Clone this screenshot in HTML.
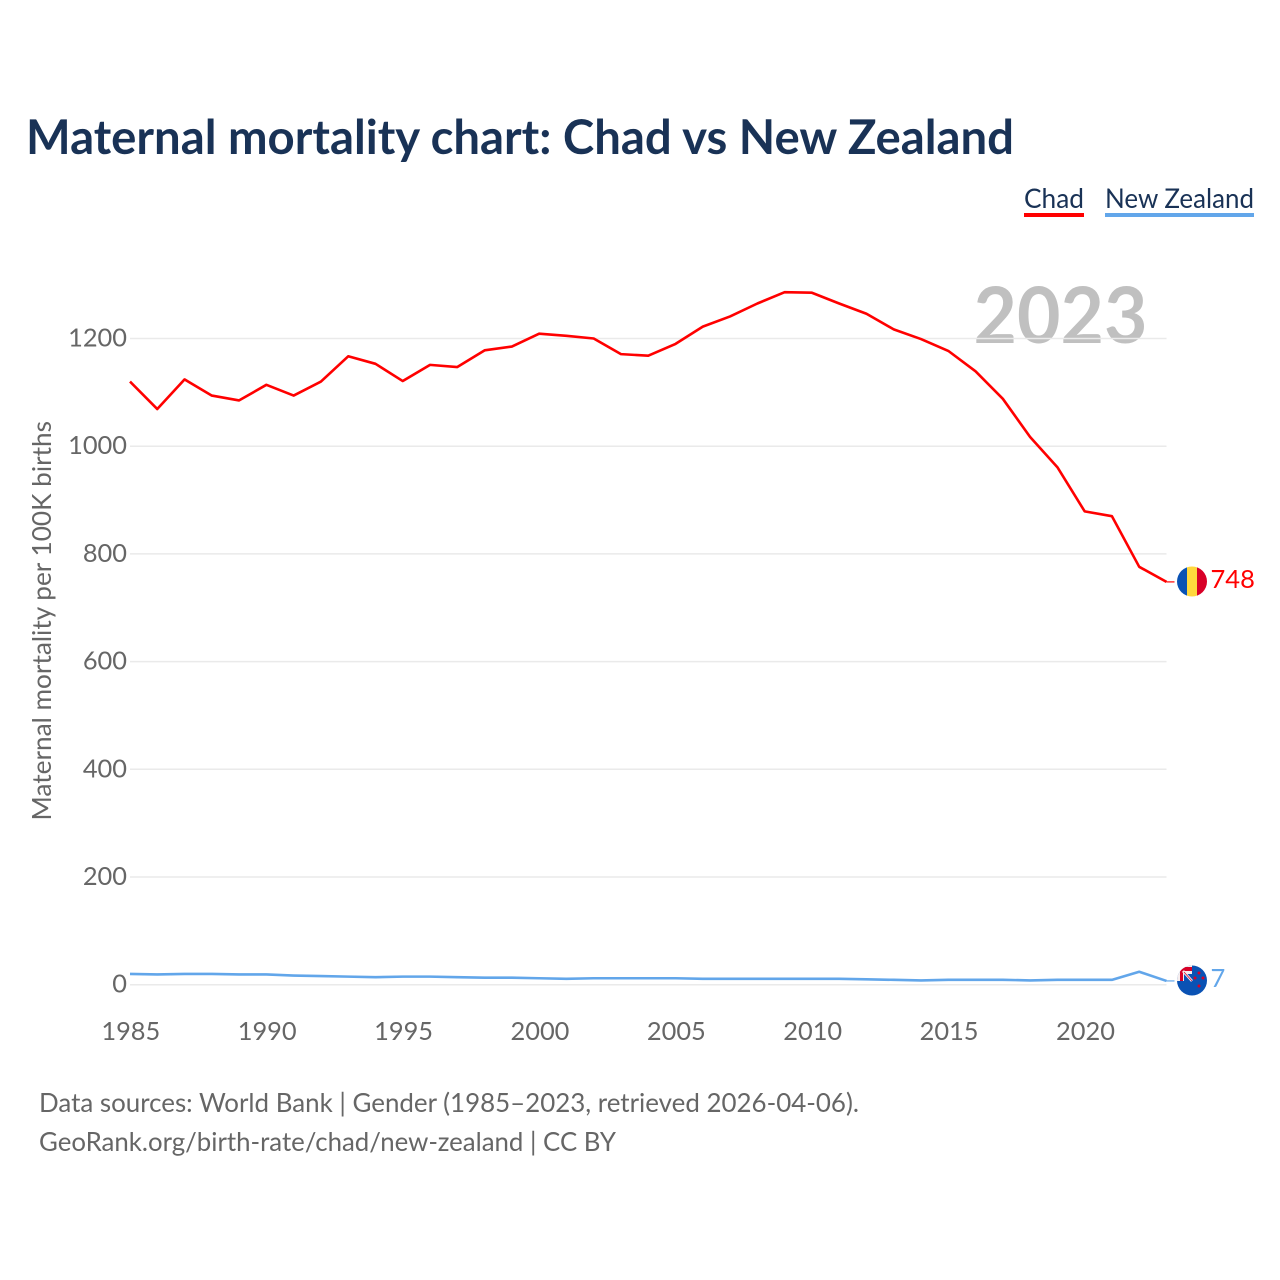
<!DOCTYPE html>
<html lang="en">
<head>
<meta charset="utf-8">
<title>Maternal mortality chart: Chad vs New Zealand</title>
<style>
html,body{margin:0;padding:0;background:#fff;width:1280px;height:1280px;overflow:hidden}
svg{display:block}
text{font-family:"Lato","Carlito","Liberation Sans",sans-serif}
</style>
</head>
<body>
<svg id="chart" xmlns="http://www.w3.org/2000/svg" width="1280" height="1280" viewBox="0 0 1280 1280">
  <defs>
    <clipPath id="clip-chad"><circle cx="1192" cy="581.5" r="15"/></clipPath>
    <clipPath id="clip-nz"><circle cx="1192" cy="980.5" r="15"/></clipPath>
  </defs>
  <text x="26" y="154" font-size="48" font-weight="700" fill="#193256" textLength="988" lengthAdjust="spacingAndGlyphs">Maternal mortality chart: Chad vs New Zealand</text>

  <g>
    <text x="1024" y="208" font-size="27.5" fill="#193256" textLength="60" lengthAdjust="spacingAndGlyphs">Chad</text>
    <rect x="1024" y="213" width="60" height="4" fill="#ff0000"/>
  </g>
  <g>
    <text x="1105" y="208" font-size="27.5" fill="#193256" textLength="149" lengthAdjust="spacingAndGlyphs">New Zealand</text>
    <rect x="1105" y="213" width="149" height="4" fill="#62a6ea"/>
  </g>

  <text x="973.5" y="343" font-size="78" font-weight="700" fill="#c0c0c0" textLength="174" lengthAdjust="spacingAndGlyphs">2023</text>

  <g id="grid"></g>
  <g id="y-ticks"></g>
  <g id="x-ticks"></g>

  <text transform="translate(51,820.5) rotate(-90)" x="0" y="0" font-size="26" fill="#666666" textLength="399.5" lengthAdjust="spacingAndGlyphs">Maternal mortality per 100K births</text>

  <g id="series"></g>

  <g clip-path="url(#clip-chad)">
    <rect x="1177" y="566" width="10" height="31" fill="#0a52b4"/>
    <rect x="1187" y="566" width="10" height="31" fill="#ffd83d"/>
    <rect x="1197" y="566" width="10" height="31" fill="#d80027"/>
  </g>
  <g clip-path="url(#clip-nz)">
    <rect x="1177" y="965" width="30" height="31" fill="#0a52b4"/>
    <rect x="1177" y="965" width="15" height="16" fill="#f6eeee"/>
    <rect x="1180" y="967" width="12" height="4" fill="#d80027"/>
    <rect x="1180" y="967" width="3" height="14" fill="#d80027"/>
    <rect x="1184" y="974" width="8" height="7" fill="#0a52b4"/>
    <path d="M1183 971 L1192 981" stroke="#f6eeee" stroke-width="2.6" fill="none"/>
    <path d="M1184 972 L1192 981" stroke="#d80027" stroke-width="0.7" fill="none"/>
    <circle cx="1199" cy="973" r="1.5" fill="#d80027"/>
    <circle cx="1195" cy="978" r="1.5" fill="#d80027"/>
    <circle cx="1203" cy="978" r="1.5" fill="#d80027"/>
    <circle cx="1199" cy="986" r="1.5" fill="#d80027"/>
  </g>

  <text id="label-chad" x="1210.5" y="588" font-size="25.5" fill="#ff0000"></text>
  <text id="label-nz" x="1210.5" y="987" font-size="25.5" fill="#62a6ea"></text>

  <text x="39" y="1112" font-size="26" fill="#666666" textLength="820" lengthAdjust="spacingAndGlyphs">Data sources: World Bank | Gender (1985–2023, retrieved 2026-04-06).</text>
  <text x="39" y="1151" font-size="26" fill="#666666" textLength="577" lengthAdjust="spacingAndGlyphs">GeoRank.org/birth-rate/chad/new-zealand | CC BY</text>
</svg>
<script>
const years = [1985,1986,1987,1988,1989,1990,1991,1992,1993,1994,1995,1996,1997,1998,1999,2000,2001,2002,2003,2004,2005,2006,2007,2008,2009,2010,2011,2012,2013,2014,2015,2016,2017,2018,2019,2020,2021,2022,2023];
const chadValues = [1120,1069,1124,1094,1085,1114,1094,1120,1167,1153,1121,1151,1147,1178,1185,1209,1205,1200,1171,1168,1190,1222,1241,1265,1286,1285,1265,1246,1217,1199,1177,1139,1088,1017,961,879,870,776,748];
const nzValues = [20,19,20,20,19,19,17,16,15,14,15,15,14,13,13,12,11,12,12,12,12,11,11,11,11,11,11,10,9,8,9,9,9,8,9,9,9,24,7];
const yTicks = [0,200,400,600,800,1000,1200];
const xTicks = [1985,1990,1995,2000,2005,2010,2015,2020];

function xScale(year) { return 130 + (year - 1985) * (1166.5 - 130) / (2023 - 1985); }
function yScale(value) { return 984.7 - value * (984.7 - 338.5) / 1200; }

const NS = 'http://www.w3.org/2000/svg';
const gridGroup = document.getElementById('grid');
const yTickGroup = document.getElementById('y-ticks');
const xTickGroup = document.getElementById('x-ticks');
const seriesGroup = document.getElementById('series');

yTicks.forEach(function (tick) {
  const line = document.createElementNS(NS, 'line');
  
  
  line.setAttribute('x1', xScale(1985));
  line.setAttribute('x2', xScale(2023));
  line.setAttribute('y1', yScale(tick));
  line.setAttribute('y2', yScale(tick));
  line.setAttribute('stroke', '#eaeaea');
  line.setAttribute('stroke-width', '1.5');
  gridGroup.appendChild(line);

  const label = document.createElementNS(NS, 'text');
  
  
  label.setAttribute('x', 127);
  label.setAttribute('y', yScale(tick) + 8);
  label.setAttribute('text-anchor', 'end');
  label.setAttribute('font-size', '25.4');
  label.setAttribute('fill', '#666666');
  label.textContent = tick;
  yTickGroup.appendChild(label);
});

xTicks.forEach(function (tick) {
  const label = document.createElementNS(NS, 'text');
  
  
  label.setAttribute('x', xScale(tick) + 0.8);
  label.setAttribute('y', 1040);
  label.setAttribute('text-anchor', 'middle');
  label.setAttribute('font-size', '25.4');
  label.setAttribute('fill', '#666666');
  label.textContent = tick;
  xTickGroup.appendChild(label);
});

function drawSeries(values, color, name) {
  const path = document.createElementNS(NS, 'path');
  
  
  const d = values.map(function (v, i) {
    return (i ? 'L' : 'M') + xScale(years[i]).toFixed(2) + ' ' + yScale(v).toFixed(2);
  }).join(' ');
  path.setAttribute('d', d);
  path.setAttribute('fill', 'none');
  path.setAttribute('stroke', color);
  path.setAttribute('stroke-width', '2.6');
  path.setAttribute('stroke-linejoin', 'round');
  seriesGroup.appendChild(path);

  const lastY = yScale(values[values.length - 1]);
  const leader = document.createElementNS(NS, 'line');
  
  
  leader.setAttribute('x1', xScale(2023));
  leader.setAttribute('x2', xScale(2023) + 8);
  leader.setAttribute('y1', lastY);
  leader.setAttribute('y2', lastY);
  leader.setAttribute('stroke', color);
  leader.setAttribute('stroke-width', '1.2');
  seriesGroup.appendChild(leader);
}

drawSeries(chadValues, '#ff0000', 'chad');
drawSeries(nzValues, '#62a6ea', 'new-zealand');

document.getElementById('label-chad').textContent = chadValues[chadValues.length - 1];
document.getElementById('label-nz').textContent = nzValues[nzValues.length - 1];
</script>
</body>
</html>
